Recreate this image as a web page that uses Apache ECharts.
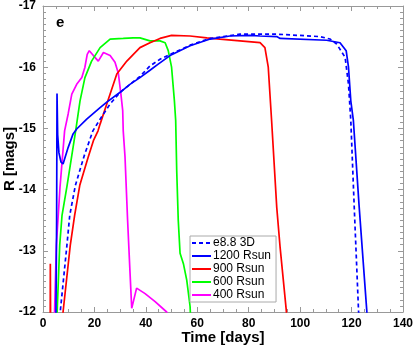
<!DOCTYPE html>
<html>
<head>
<meta charset="utf-8">
<script src="https://cdn.jsdelivr.net/npm/echarts@6/dist/echarts.min.js"></script>
<style>
  html, body { margin: 0; padding: 0; background: #fff; }
  #chart { width: 415px; height: 349px; }
</style>
</head>
<body>
<div id="chart"></div>
<script>
// light curves: days and R magnitudes
var names = ['e8.8 3D', '1200 Rsun', '900 Rsun', '600 Rsun', '400 Rsun'];
var colors = ['#0000ff', '#0000ff', '#ff0000', '#00ff00', '#ff00ff'];

var day3D = [6.5, 6.7, 9.3, 10.4, 12.6, 16, 19.4, 22.2, 26.1, 30, 37.7, 41.6, 45.5, 57.2, 65, 76.6, 90.9, 107.7, 111.6, 114.2, 117.5, 118.8, 119.7, 121, 122.7, 123];
var mag3D = [-11.8, -12.0, -13.09, -13.58, -14.07, -14.55, -14.96, -15.15, -15.40, -15.59, -15.85, -16.02, -16.13, -16.36, -16.47, -16.54, -16.54, -16.50, -16.46, -16.38, -16.16, -15.72, -15.13, -13.75, -12.03, -11.8];

var day1200 = [5.0, 5.3, 5.45, 5.7, 6.2, 7.0, 7.8, 9.8, 11.7, 13.1, 17, 22.2, 24.8, 30, 33.8, 37.7, 41.6, 44.8, 49.4, 57.2, 65, 72.7, 80.5, 84.4, 90.9, 92.2, 110.3, 115.5, 117.9, 118.8, 119.7, 120.7, 122.9, 125.9, 126.2];
var mag1200 = [-11.8, -13.5, -15.57, -14.9, -14.6, -14.45, -14.42, -14.69, -14.91, -14.99, -15.15, -15.34, -15.43, -15.59, -15.72, -15.83, -15.95, -16.05, -16.19, -16.35, -16.46, -16.51, -16.52, -16.51, -16.50, -16.47, -16.44, -16.40, -16.27, -16.0, -15.45, -15.13, -13.75, -12.03, -11.8];

var day900 = [2.8, 2.85, 3.0, 7.5, 7.8, 10.6, 12.3, 14.3, 17.5, 19.6, 21.4, 22.2, 24.8, 28.7, 32.6, 37.7, 41.6, 45.5, 50, 57.2, 63.7, 68.8, 76.6, 84.4, 86.3, 87.6, 88.9, 90.9, 92.2, 94.6, 95];
var mag900 = [-11.5, -12.79, -11.5, -11.5, -12.0, -13.09, -13.58, -14.07, -14.52, -14.8, -14.96, -15.07, -15.40, -15.89, -16.10, -16.32, -16.40, -16.47, -16.52, -16.51, -16.48, -16.46, -16.43, -16.40, -16.32, -16.0, -15.13, -13.71, -13.06, -12.03, -11.8];

var day600 = [5.2, 5.5, 6.5, 7.4, 9.3, 12.7, 14.4, 16.3, 18.9, 22.2, 26.1, 31.2, 35.1, 37.7, 41.6, 45.5, 47.5, 48.7, 50, 51.1, 51.6, 52, 52.6, 53.3, 54.6, 55.9, 57.2, 57.5];
var mag600 = [-11.8, -12.0, -13.09, -13.58, -14.05, -14.96, -15.45, -15.83, -16.10, -16.32, -16.46, -16.47, -16.48, -16.48, -16.43, -16.43, -16.40, -16.27, -16.0, -15.45, -15.13, -14.31, -13.5, -12.96, -12.79, -12.52, -12.09, -11.8];

var day400 = [4.3, 4.5, 5.2, 6.6, 8.4, 9.8, 11.2, 13.1, 15.1, 16.3, 17.2, 18.0, 19.6, 21.5, 23.5, 24.1, 26.1, 28, 29.3, 30.3, 31, 31.2, 31.9, 32.9, 33.8, 34.5, 36.4, 37.1, 39.7, 43.6, 48.1, 48.5];
var mag400 = [-11.8, -12.0, -13.09, -14.03, -14.96, -15.24, -15.56, -15.72, -15.83, -16.0, -16.21, -16.27, -16.19, -16.10, -16.24, -16.27, -16.19, -16.08, -15.90, -15.56, -15.29, -14.96, -14.53, -13.5, -12.68, -12.06, -12.39, -12.41, -12.30, -12.17, -12.0, -11.9];

var xTicks = [0, 20, 40, 60, 80, 100, 120, 140];
var yTicks = [-17, -16, -15, -14, -13, -12];

function zip(xs, ys) {
  var out = [];
  for (var i = 0; i < xs.length; i++) out.push([xs[i], ys[i]]);
  return out;
}

var allDays = [day3D, day1200, day900, day600, day400];
var allMags = [mag3D, mag1200, mag900, mag600, mag400];

var font = 'Liberation Sans, Arial, sans-serif';
var frame = '#999999';

var series = [];
for (var i = 0; i < names.length; i++) {
  series.push({
    name: names[i],
    type: 'line',
    data: zip(allDays[i], allMags[i]),
    symbol: 'none',
    clip: true,
    z: i === 0 ? 10 : 5 - i,
    lineStyle: {
      color: colors[i],
      width: 1.7,
      type: i === 0 ? [4, 3] : 'solid'
    },
    itemStyle: { color: colors[i] }
  });
}

function baseX(pos, labels) {
  return {
    type: 'value',
    position: pos,
    min: xTicks[0],
    max: xTicks[xTicks.length - 1],
    interval: 20,
    name: labels ? 'Time [days]' : '',
    nameLocation: 'middle',
    nameGap: 18,
    nameMoveOverlap: false,
    nameTextStyle: { fontFamily: font, fontWeight: 'bold', fontSize: 15, color: '#000' },
    axisLine: { show: true, onZero: false, lineStyle: { color: frame, width: 1 } },
    axisTick: { show: true, inside: true, length: 5, lineStyle: { color: frame } },
    minorTick: { show: true, splitNumber: 4, length: 3, lineStyle: { color: frame } },
    splitLine: { show: false },
    axisLabel: { show: labels, margin: 6, fontFamily: font, fontWeight: 'bold', fontSize: 12, color: '#000' }
  };
}

function baseY(pos, labels) {
  return {
    type: 'value',
    position: pos,
    inverse: true,
    min: yTicks[0],
    max: yTicks[yTicks.length - 1],
    interval: 1,
    name: labels ? 'R [mags]' : '',
    nameLocation: 'middle',
    nameGap: 26,
    nameRotate: 90,
    nameMoveOverlap: false,
    nameTextStyle: { fontFamily: font, fontWeight: 'bold', fontSize: 15, color: '#000' },
    axisLine: { show: true, onZero: false, lineStyle: { color: frame, width: 1 } },
    axisTick: { show: true, inside: true, length: 5, lineStyle: { color: frame } },
    minorTick: { show: true, splitNumber: 10, length: 3, lineStyle: { color: frame } },
    splitLine: { show: false },
    axisLabel: { show: labels, margin: 7, fontFamily: font, fontWeight: 'bold', fontSize: 12, color: '#000' }
  };
}

var chart = echarts.init(document.getElementById('chart'), null, { renderer: 'canvas' });
chart.setOption({
  animation: false,
  backgroundColor: '#fff',
  grid: { left: 43, top: 6, right: 12, bottom: 37, containLabel: false, outerBoundsMode: 'none' },
  xAxis: [baseX('bottom', true), baseX('top', false)],
  yAxis: [baseY('left', true), baseY('right', false)],
  legend: {
    data: names,
    orient: 'vertical',
    left: 190,
    top: 236,
    padding: [1, 5, 1, 1],
    itemGap: 1,
    itemWidth: 19,
    itemHeight: 14,
    backgroundColor: '#fff',
    borderColor: '#aaaaaa',
    borderWidth: 1,
    borderRadius: 0,
    itemStyle: { opacity: 0 },
    textStyle: { fontFamily: font, fontSize: 12, color: '#000', padding: [0, 0, 0, -3] }
  },
  graphic: [{
    type: 'text',
    left: 56,
    top: 15,
    style: { text: 'e', font: 'bold 15px ' + font, fill: '#000' }
  }],
  series: series
});
</script>
</body>
</html>
